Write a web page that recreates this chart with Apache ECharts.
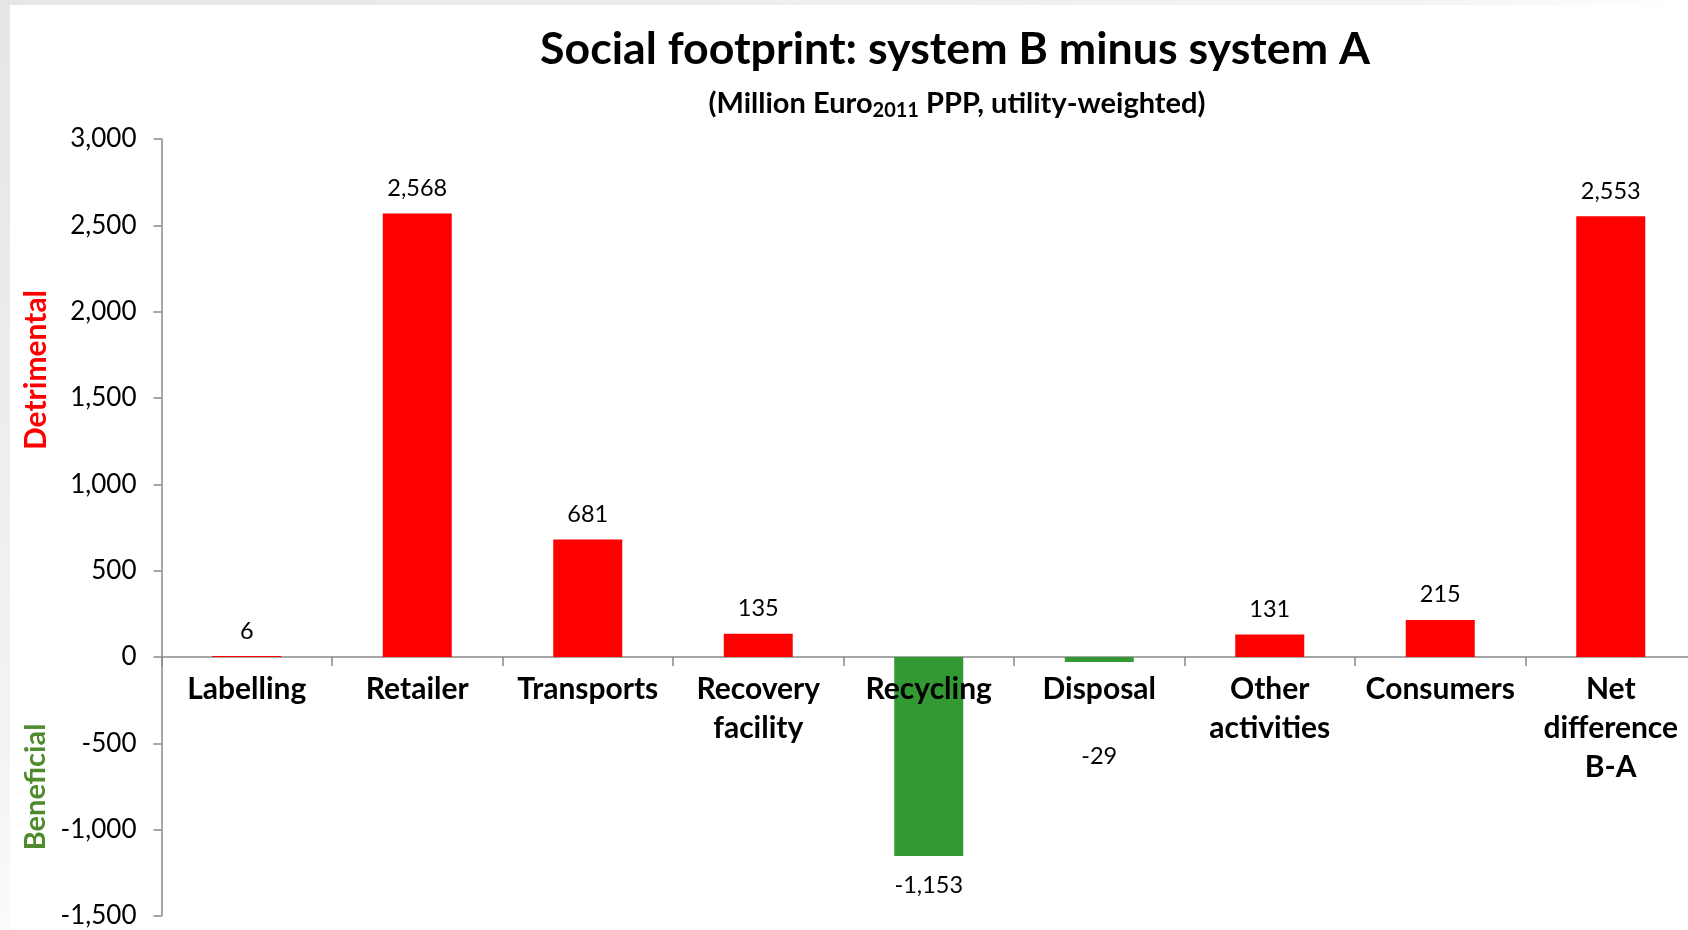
<!DOCTYPE html>
<html>
<head>
<meta charset="utf-8">
<title>Social footprint: system B minus system A</title>
<script src="https://cdn.jsdelivr.net/npm/echarts@6/dist/echarts.min.js"></script>
<style>
  html, body { margin: 0; padding: 0; background: #ffffff; }
  #chart { width: 1688px; height: 930px; }
</style>
</head>
<body>
<div id="chart"></div>
<script>
// Stages of the chain and their social-footprint difference (B minus A)
const categories = [
  'Labelling', 'Retailer', 'Transports', 'Recovery\nfacility', 'Recycling',
  'Disposal', 'Other\nactivities', 'Consumers', 'Net\ndifference\nB-A'
];
const differences = [6, 2568, 681, 135, -1153, -29, 131, 215, 2553];

// Value axis range and step
const yMin = -1500;
const yMax = 3000;
const yStep = 500;

const FONT = 'Lato, "Open Sans", sans-serif';
const RED = '#ff0000';
const GREEN = '#339933';
const AXIS_GREY = '#898989';

const fmt = v => Math.round(v).toLocaleString('en-US');

const barData = differences.map((v, i) => {
  const negative = v < 0;
  const item = {
    value: v,
    itemStyle: { color: negative ? GREEN : RED },
    label: {
      position: negative ? 'bottom' : 'top',
      distance: negative ? 17 : 13
    }
  };
  // small negative value: its label sits below the category text
  if (categories[i] === 'Disposal') {
    item.label.distance = 82;
  }
  return item;
});

const chart = echarts.init(document.getElementById('chart'), null, { renderer: 'canvas' });

chart.setOption({
  backgroundColor: '#ffffff',
  animation: false,
  graphic: [
    {
      type: 'rect',
      shape: { x: 0, y: 0, width: 1688, height: 5 },
      style: {
        fill: new echarts.graphic.LinearGradient(0, 0, 1, 0, [
          { offset: 0, color: '#e6e6e6' },
          { offset: 0.85, color: '#f4f4f4' },
          { offset: 1, color: '#ffffff' }
        ])
      },
      silent: true
    },
    {
      type: 'rect',
      shape: { x: 0, y: 0, width: 10, height: 930 },
      style: {
        fill: new echarts.graphic.LinearGradient(0, 0, 0, 1, [
          { offset: 0, color: '#e6e6e6' },
          { offset: 0.8, color: '#f3f3f3' },
          { offset: 1, color: '#fbfbfb' }
        ])
      },
      silent: true
    },
    {
      type: 'text',
      x: 36,
      y: 370,
      rotation: Math.PI / 2,
      style: {
        text: 'Detrimental',
        fill: RED,
        font: 'bold 30px ' + FONT,
        align: 'center',
        verticalAlign: 'middle'
      }
    },
    {
      type: 'text',
      x: 36,
      y: 787,
      rotation: Math.PI / 2,
      style: {
        text: 'Beneficial',
        fill: '#4f8a2c',
        font: 'bold 29px ' + FONT,
        align: 'center',
        verticalAlign: 'middle'
      }
    }
  ],
  title: [
    {
      text: 'Social footprint: system B minus system A',
      left: 950,
      top: 22,
      textAlign: 'center',
      textStyle: {
        fontFamily: FONT,
        fontWeight: 'bold',
        fontSize: 44.7,
        color: '#000000'
      }
    },
    {
      text: '{t|(Million Euro}{s|2011}{t| PPP, utility-weighted)}',
      left: 952,
      top: 80,
      textAlign: 'center',
      textStyle: {
        rich: {
          t: { fontFamily: FONT, fontWeight: 'bold', fontSize: 29, color: '#000000', lineHeight: 38 },
          s: { fontFamily: FONT, fontWeight: 'bold', fontSize: 20, color: '#000000', lineHeight: 38, padding: [14, 0, 0, 0] }
        }
      }
    }
  ],
  grid: {
    left: 161.5,
    top: 139,
    width: 1534.5,
    height: 777,
    containLabel: false,
    outerBoundsMode: 'none'
  },
  xAxis: [
    {
      // axis line and ticks, drawn beneath the bars
      type: 'category',
      data: categories,
      position: 'bottom',
      axisLine: { onZero: false, lineStyle: { color: AXIS_GREY, width: 1.5 } },
      axisTick: { show: true, interval: 0, length: 9, lineStyle: { color: AXIS_GREY, width: 1.5 } },
      axisLabel: { show: false },
      splitLine: { show: false }
    },
    {
      // category names, drawn above the bars
      type: 'category',
      data: categories,
      position: 'bottom',
      z: 10,
      axisLine: { show: false, onZero: false },
      axisTick: { show: false },
      axisLabel: {
        interval: 0,
        margin: 13,
        fontFamily: FONT,
        fontWeight: 'bold',
        fontSize: 30,
        lineHeight: 39,
        color: '#000000'
      },
      splitLine: { show: false }
    }
  ],
  yAxis: {
    type: 'value',
    min: yMin,
    max: yMax,
    interval: yStep,
    axisLine: { show: true, lineStyle: { color: AXIS_GREY, width: 1.5 } },
    axisTick: { show: true, length: 8, lineStyle: { color: AXIS_GREY, width: 1.5 } },
    axisLabel: {
      margin: 25,
      fontFamily: FONT,
      fontSize: 26,
      color: '#000000',
      formatter: fmt
    },
    splitLine: { show: false }
  },
  series: [
    {
      type: 'bar',
      xAxisIndex: 0,
      data: barData,
      barWidth: 69,
      label: {
        show: true,
        fontFamily: FONT,
        fontSize: 23.5,
        color: '#000000',
        formatter: p => fmt(p.value)
      }
    }
  ]
});

// Move the category axes (line, ticks and labels) up to the zero line of the value axis
const zeroY = chart.convertToPixel({ yAxisIndex: 0 }, 0);
const bottomY = chart.convertToPixel({ yAxisIndex: 0 }, yMin);
chart.setOption({ xAxis: [{ offset: zeroY - bottomY }, { offset: zeroY - bottomY }] });
</script>
</body>
</html>
